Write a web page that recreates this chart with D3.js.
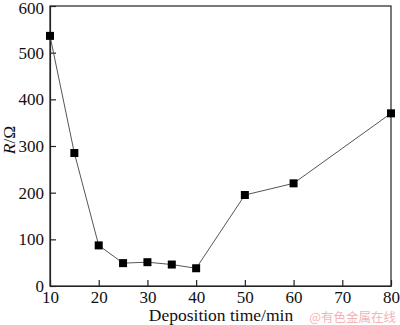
<!DOCTYPE html>
<html>
<head>
<meta charset="utf-8">
<script src="https://cdn.jsdelivr.net/npm/d3@7"></script>
<style>
  html, body { margin: 0; padding: 0; background: #fff; }
  svg { display: block; font-family: "Liberation Serif", "Times New Roman", serif; }
</style>
</head>
<body>
<svg id="chart" width="400" height="325"></svg>
<script>
// Resistance versus deposition time
const times = [10, 15, 20, 25, 30, 35, 40, 50, 60, 80];
const resistance = [536, 285, 87, 49, 51, 46, 38, 195, 220, 370];
const xTicks = [10, 20, 30, 40, 50, 60, 70, 80];
const yTicks = [0, 100, 200, 300, 400, 500, 600];

(function () {
  const svg = d3.select("#chart");
  const plotL = 50, plotR = 391, plotT = 6, plotB = 286;

  const x = d3.scaleLinear().domain([10, 80]).range([plotL, plotR]);
  const y = d3.scaleLinear().domain([0, 600]).range([plotB, plotT]);

  // frame
  svg.append("rect")
    .attr("x", plotL).attr("y", plotT)
    .attr("width", plotR - plotL).attr("height", plotB - plotT)
    .attr("fill", "none").attr("stroke", "#222").attr("stroke-width", 1.2);

  // axes with inward ticks
  const xAxis = svg.append("g").attr("transform", `translate(0,${plotB})`)
    .call(d3.axisBottom(x).tickValues(xTicks).tickSizeInner(-6).tickSizeOuter(0).tickPadding(5));
  const yAxis = svg.append("g").attr("transform", `translate(${plotL},0)`)
    .call(d3.axisLeft(y).tickValues(yTicks).tickSizeInner(-6).tickSizeOuter(0).tickPadding(6));

  [xAxis, yAxis].forEach(g => {
    g.select(".domain").attr("stroke", "#222").attr("stroke-width", 1.2);
    g.selectAll(".tick line").attr("stroke", "#222").attr("stroke-width", 1.2);
    g.selectAll(".tick text")
      .attr("fill", "#111")
      .style("font-family", "'Liberation Serif', serif")
      .style("font-size", "17px");
  });
  // keep the top label inside the window
  yAxis.selectAll(".tick text").filter(d => d === 600).attr("transform", "translate(0,2)");

  // data line
  const pts = times.map((t, i) => [t, resistance[i]]);
  svg.append("path")
    .datum(pts)
    .attr("fill", "none")
    .attr("stroke", "#555")
    .attr("stroke-width", 1)
    .attr("d", d3.line().x(d => x(d[0])).y(d => y(d[1])));

  // square markers
  const m = 8;
  svg.append("g").selectAll("rect")
    .data(pts)
    .join("rect")
    .attr("x", d => x(d[0]) - m / 2)
    .attr("y", d => y(d[1]) - m / 2)
    .attr("width", m).attr("height", m)
    .attr("fill", "#000");

  // axis titles
  svg.append("text")
    .attr("x", 221).attr("y", 321)
    .attr("text-anchor", "middle")
    .style("font-size", "17.5px")
    .attr("fill", "#111")
    .text("Deposition time/min");

  const yl = svg.append("text")
    .attr("transform", "translate(15,140) rotate(-90)")
    .attr("text-anchor", "middle")
    .style("font-size", "17.5px")
    .attr("fill", "#111");
  yl.append("tspan").style("font-style", "italic").text("R");
  yl.append("tspan").text("/Ω");

  // source mark
  svg.append("text")
    .attr("x", 396).attr("y", 322)
    .attr("text-anchor", "end")
    .style("font-family", "'Noto Sans CJK SC', sans-serif")
    .style("font-size", "12.5px")
    .attr("fill", "#f4b4b4")
    .text("@有色金属在线");
})();
</script>
</body>
</html>
